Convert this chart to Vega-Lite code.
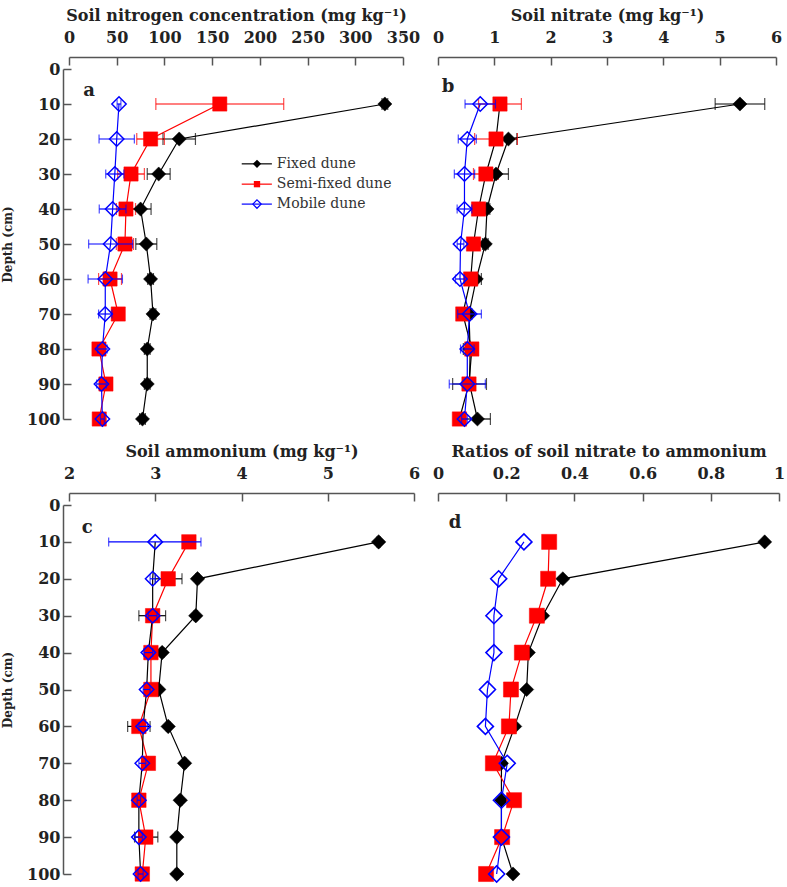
{
  "$schema": "https://vega.github.io/schema/vega-lite/v6.json",
  "background": "white",
  "padding": {"left": 1, "top": 7, "right": 0, "bottom": 5},
  "config": {
    "view": {"stroke": null},
    "font": "DejaVu Serif",
    "axis": {
      "labelFont": "DejaVu Serif", "labelFontWeight": "bold", "labelFontSize": 16, "labelColor": "#222",
      "titleFont": "DejaVu Serif", "titleFontWeight": "bold", "titleFontSize": 16, "titleColor": "#222",
      "domainColor": "#555", "domainWidth": 1.5, "tickColor": "#555", "tickWidth": 1.5, "tickSize": -8,
      "grid": false, "labelFlush": false, "labelOverlap": false
    },
    "axisTop": {"offset": 12, "labelPadding": 20, "titlePadding": 6},
    "axisLeft": {"offset": 6, "labelPadding": 11, "titlePadding": 12, "titleFontSize": 12}
  },
  "datasets": {
    "rows": [
      {"p": "a", "site": "Fixed dune", "depth": 10, "value": 331, "lo": 328, "hi": 334},
      {"p": "a", "site": "Fixed dune", "depth": 20, "value": 115.5, "lo": 98.5, "hi": 132.5},
      {"p": "a", "site": "Fixed dune", "depth": 30, "value": 94, "lo": 82, "hi": 106},
      {"p": "a", "site": "Fixed dune", "depth": 40, "value": 75, "lo": 64, "hi": 86},
      {"p": "a", "site": "Fixed dune", "depth": 50, "value": 81, "lo": 70, "hi": 92},
      {"p": "a", "site": "Fixed dune", "depth": 60, "value": 85.5, "lo": 82.5, "hi": 88.5},
      {"p": "a", "site": "Fixed dune", "depth": 70, "value": 88, "lo": 85, "hi": 91},
      {"p": "a", "site": "Fixed dune", "depth": 80, "value": 82, "lo": 79, "hi": 85},
      {"p": "a", "site": "Fixed dune", "depth": 90, "value": 82, "lo": 79, "hi": 85},
      {"p": "a", "site": "Fixed dune", "depth": 100, "value": 77, "lo": 74, "hi": 80},
      {"p": "a", "site": "Semi-fixed dune", "depth": 10, "value": 158, "lo": 91, "hi": 225},
      {"p": "a", "site": "Semi-fixed dune", "depth": 20, "value": 85.5, "lo": 71, "hi": 100},
      {"p": "a", "site": "Semi-fixed dune", "depth": 30, "value": 65, "lo": 51, "hi": 79},
      {"p": "a", "site": "Semi-fixed dune", "depth": 40, "value": 59.7, "lo": 49.7, "hi": 69.7},
      {"p": "a", "site": "Semi-fixed dune", "depth": 50, "value": 58.6, "lo": 49.6, "hi": 67.6},
      {"p": "a", "site": "Semi-fixed dune", "depth": 60, "value": 43, "lo": 31, "hi": 55},
      {"p": "a", "site": "Semi-fixed dune", "depth": 70, "value": 51.6, "lo": 46.6, "hi": 56.6},
      {"p": "a", "site": "Semi-fixed dune", "depth": 80, "value": 31.4, "lo": 28.4, "hi": 34.4},
      {"p": "a", "site": "Semi-fixed dune", "depth": 90, "value": 38.7, "lo": 34.7, "hi": 42.7},
      {"p": "a", "site": "Semi-fixed dune", "depth": 100, "value": 31.7, "lo": 28.7, "hi": 34.7},
      {"p": "a", "site": "Mobile dune", "depth": 10, "value": 52.4, "lo": 50.4, "hi": 54.4},
      {"p": "a", "site": "Mobile dune", "depth": 20, "value": 50, "lo": 31.5, "hi": 68.5},
      {"p": "a", "site": "Mobile dune", "depth": 30, "value": 48, "lo": 38.5, "hi": 57.5},
      {"p": "a", "site": "Mobile dune", "depth": 40, "value": 45.7, "lo": 31.7, "hi": 59.7},
      {"p": "a", "site": "Mobile dune", "depth": 50, "value": 43.6, "lo": 20.6, "hi": 66.6},
      {"p": "a", "site": "Mobile dune", "depth": 60, "value": 38, "lo": 20, "hi": 56},
      {"p": "a", "site": "Mobile dune", "depth": 70, "value": 38, "lo": 31, "hi": 45},
      {"p": "a", "site": "Mobile dune", "depth": 80, "value": 35, "lo": 30, "hi": 40},
      {"p": "a", "site": "Mobile dune", "depth": 90, "value": 34, "lo": 29, "hi": 39},
      {"p": "a", "site": "Mobile dune", "depth": 100, "value": 35, "lo": 33, "hi": 37},

      {"p": "b", "site": "Fixed dune", "depth": 10, "value": 5.36, "lo": 4.92, "hi": 5.8},
      {"p": "b", "site": "Fixed dune", "depth": 20, "value": 1.25, "lo": 1.1, "hi": 1.4},
      {"p": "b", "site": "Fixed dune", "depth": 30, "value": 1.03, "lo": 0.81, "hi": 1.25},
      {"p": "b", "site": "Fixed dune", "depth": 40, "value": 0.87, "lo": 0.82, "hi": 0.92},
      {"p": "b", "site": "Fixed dune", "depth": 50, "value": 0.84, "lo": 0.79, "hi": 0.89},
      {"p": "b", "site": "Fixed dune", "depth": 60, "value": 0.68, "lo": 0.59, "hi": 0.77},
      {"p": "b", "site": "Fixed dune", "depth": 70, "value": 0.55, "lo": 0.5, "hi": 0.6},
      {"p": "b", "site": "Fixed dune", "depth": 80, "value": 0.57, "lo": 0.45, "hi": 0.69},
      {"p": "b", "site": "Fixed dune", "depth": 90, "value": 0.56, "lo": 0.26, "hi": 0.86},
      {"p": "b", "site": "Fixed dune", "depth": 100, "value": 0.7, "lo": 0.47, "hi": 0.93},
      {"p": "b", "site": "Semi-fixed dune", "depth": 10, "value": 1.1, "lo": 0.72, "hi": 1.48},
      {"p": "b", "site": "Semi-fixed dune", "depth": 20, "value": 1.03, "lo": 0.65, "hi": 1.41},
      {"p": "b", "site": "Semi-fixed dune", "depth": 30, "value": 0.85, "lo": 0.63, "hi": 1.07},
      {"p": "b", "site": "Semi-fixed dune", "depth": 40, "value": 0.72, "lo": 0.67, "hi": 0.77},
      {"p": "b", "site": "Semi-fixed dune", "depth": 50, "value": 0.63, "lo": 0.58, "hi": 0.68},
      {"p": "b", "site": "Semi-fixed dune", "depth": 60, "value": 0.58, "lo": 0.53, "hi": 0.63},
      {"p": "b", "site": "Semi-fixed dune", "depth": 70, "value": 0.44, "lo": 0.34, "hi": 0.54},
      {"p": "b", "site": "Semi-fixed dune", "depth": 80, "value": 0.6, "lo": 0.55, "hi": 0.65},
      {"p": "b", "site": "Semi-fixed dune", "depth": 90, "value": 0.55, "lo": 0.5, "hi": 0.6},
      {"p": "b", "site": "Semi-fixed dune", "depth": 100, "value": 0.38, "lo": 0.33, "hi": 0.43},
      {"p": "b", "site": "Mobile dune", "depth": 10, "value": 0.75, "lo": 0.48, "hi": 1.02},
      {"p": "b", "site": "Mobile dune", "depth": 20, "value": 0.52, "lo": 0.36, "hi": 0.68},
      {"p": "b", "site": "Mobile dune", "depth": 30, "value": 0.47, "lo": 0.29, "hi": 0.65},
      {"p": "b", "site": "Mobile dune", "depth": 40, "value": 0.47, "lo": 0.34, "hi": 0.6},
      {"p": "b", "site": "Mobile dune", "depth": 50, "value": 0.4, "lo": 0.34, "hi": 0.46},
      {"p": "b", "site": "Mobile dune", "depth": 60, "value": 0.39, "lo": 0.31, "hi": 0.47},
      {"p": "b", "site": "Mobile dune", "depth": 70, "value": 0.56, "lo": 0.35, "hi": 0.77},
      {"p": "b", "site": "Mobile dune", "depth": 80, "value": 0.52, "lo": 0.4, "hi": 0.64},
      {"p": "b", "site": "Mobile dune", "depth": 90, "value": 0.52, "lo": 0.2, "hi": 0.84},
      {"p": "b", "site": "Mobile dune", "depth": 100, "value": 0.47, "lo": 0.42, "hi": 0.52},

      {"p": "c", "site": "Fixed dune", "depth": 10, "value": 5.59, "lo": 5.57, "hi": 5.61},
      {"p": "c", "site": "Fixed dune", "depth": 20, "value": 3.49, "lo": 3.47, "hi": 3.51},
      {"p": "c", "site": "Fixed dune", "depth": 30, "value": 3.47, "lo": 3.45, "hi": 3.49},
      {"p": "c", "site": "Fixed dune", "depth": 40, "value": 3.08, "lo": 3.06, "hi": 3.1},
      {"p": "c", "site": "Fixed dune", "depth": 50, "value": 3.04, "lo": 3.02, "hi": 3.06},
      {"p": "c", "site": "Fixed dune", "depth": 60, "value": 3.15, "lo": 3.13, "hi": 3.17},
      {"p": "c", "site": "Fixed dune", "depth": 70, "value": 3.34, "lo": 3.32, "hi": 3.36},
      {"p": "c", "site": "Fixed dune", "depth": 80, "value": 3.29, "lo": 3.27, "hi": 3.31},
      {"p": "c", "site": "Fixed dune", "depth": 90, "value": 3.25, "lo": 3.23, "hi": 3.27},
      {"p": "c", "site": "Fixed dune", "depth": 100, "value": 3.25, "lo": 3.23, "hi": 3.27},
      {"p": "c", "site": "Semi-fixed dune", "depth": 10, "value": 3.39, "lo": 3.34, "hi": 3.44},
      {"p": "c", "site": "Semi-fixed dune", "depth": 20, "value": 3.15, "lo": 3.0, "hi": 3.31},
      {"p": "c", "site": "Semi-fixed dune", "depth": 30, "value": 2.97, "lo": 2.81, "hi": 3.12},
      {"p": "c", "site": "Semi-fixed dune", "depth": 40, "value": 2.95, "lo": 2.88, "hi": 3.02},
      {"p": "c", "site": "Semi-fixed dune", "depth": 50, "value": 2.95, "lo": 2.9, "hi": 3.0},
      {"p": "c", "site": "Semi-fixed dune", "depth": 60, "value": 2.81, "lo": 2.68, "hi": 2.94},
      {"p": "c", "site": "Semi-fixed dune", "depth": 70, "value": 2.92, "lo": 2.85, "hi": 2.99},
      {"p": "c", "site": "Semi-fixed dune", "depth": 80, "value": 2.81, "lo": 2.78, "hi": 2.84},
      {"p": "c", "site": "Semi-fixed dune", "depth": 90, "value": 2.89, "lo": 2.76, "hi": 3.03},
      {"p": "c", "site": "Semi-fixed dune", "depth": 100, "value": 2.85, "lo": 2.82, "hi": 2.88},
      {"p": "c", "site": "Mobile dune", "depth": 10, "value": 3.0, "lo": 2.46, "hi": 3.53},
      {"p": "c", "site": "Mobile dune", "depth": 20, "value": 2.97, "lo": 2.94, "hi": 3.0},
      {"p": "c", "site": "Mobile dune", "depth": 30, "value": 2.97, "lo": 2.92, "hi": 3.02},
      {"p": "c", "site": "Mobile dune", "depth": 40, "value": 2.92, "lo": 2.87, "hi": 2.97},
      {"p": "c", "site": "Mobile dune", "depth": 50, "value": 2.9, "lo": 2.86, "hi": 2.94},
      {"p": "c", "site": "Mobile dune", "depth": 60, "value": 2.86, "lo": 2.81, "hi": 2.91},
      {"p": "c", "site": "Mobile dune", "depth": 70, "value": 2.85, "lo": 2.81, "hi": 2.89},
      {"p": "c", "site": "Mobile dune", "depth": 80, "value": 2.81, "lo": 2.79, "hi": 2.83},
      {"p": "c", "site": "Mobile dune", "depth": 90, "value": 2.81, "lo": 2.77, "hi": 2.85},
      {"p": "c", "site": "Mobile dune", "depth": 100, "value": 2.83, "lo": 2.8, "hi": 2.86},

      {"p": "d", "site": "Fixed dune", "depth": 10, "value": 0.958},
      {"p": "d", "site": "Fixed dune", "depth": 20, "value": 0.366},
      {"p": "d", "site": "Fixed dune", "depth": 30, "value": 0.307},
      {"p": "d", "site": "Fixed dune", "depth": 40, "value": 0.265},
      {"p": "d", "site": "Fixed dune", "depth": 50, "value": 0.26},
      {"p": "d", "site": "Fixed dune", "depth": 60, "value": 0.225},
      {"p": "d", "site": "Fixed dune", "depth": 70, "value": 0.186},
      {"p": "d", "site": "Fixed dune", "depth": 80, "value": 0.186},
      {"p": "d", "site": "Fixed dune", "depth": 90, "value": 0.186},
      {"p": "d", "site": "Fixed dune", "depth": 100, "value": 0.22},
      {"p": "d", "site": "Semi-fixed dune", "depth": 10, "value": 0.326},
      {"p": "d", "site": "Semi-fixed dune", "depth": 20, "value": 0.323},
      {"p": "d", "site": "Semi-fixed dune", "depth": 30, "value": 0.29},
      {"p": "d", "site": "Semi-fixed dune", "depth": 40, "value": 0.246},
      {"p": "d", "site": "Semi-fixed dune", "depth": 50, "value": 0.214},
      {"p": "d", "site": "Semi-fixed dune", "depth": 60, "value": 0.208},
      {"p": "d", "site": "Semi-fixed dune", "depth": 70, "value": 0.161},
      {"p": "d", "site": "Semi-fixed dune", "depth": 80, "value": 0.223},
      {"p": "d", "site": "Semi-fixed dune", "depth": 90, "value": 0.188},
      {"p": "d", "site": "Semi-fixed dune", "depth": 100, "value": 0.141},
      {"p": "d", "site": "Mobile dune", "depth": 10, "value": 0.252},
      {"p": "d", "site": "Mobile dune", "depth": 20, "value": 0.178},
      {"p": "d", "site": "Mobile dune", "depth": 30, "value": 0.164},
      {"p": "d", "site": "Mobile dune", "depth": 40, "value": 0.164},
      {"p": "d", "site": "Mobile dune", "depth": 50, "value": 0.145},
      {"p": "d", "site": "Mobile dune", "depth": 60, "value": 0.139},
      {"p": "d", "site": "Mobile dune", "depth": 70, "value": 0.203},
      {"p": "d", "site": "Mobile dune", "depth": 80, "value": 0.186},
      {"p": "d", "site": "Mobile dune", "depth": 90, "value": 0.186},
      {"p": "d", "site": "Mobile dune", "depth": 100, "value": 0.172}
    ]
  },
  "data": {"name": "rows"},
  "columns": 2,
  "bounds": "flush",
  "spacing": {"row": 86, "column": 24},
  "resolve": {"scale": {"color": "independent", "fill": "independent", "stroke": "independent", "shape": "independent", "size": "independent"}},
  "concat": [
    {
      "width": 334, "height": 350,
      "transform": [{"filter": "datum.p === 'a'"}],
      "encoding": {"y": {"field": "depth", "type": "quantitative", "scale": {"domain": [0, 100], "reverse": true, "nice": false, "zero": false}, "axis": {"values": [0, 10, 20, 30, 40, 50, 60, 70, 80, 90, 100], "title": "Depth (cm)"}}},
      "layer": [
        {"mark": {"type": "line", "strokeWidth": 1.2}, "encoding": {
          "x": {"field": "value", "type": "quantitative", "scale": {"domain": [0, 350], "nice": false, "zero": false}, "axis": {"orient": "top", "values": [0, 50, 100, 150, 200, 250, 300, 350], "title": "Soil nitrogen concentration (mg kg⁻¹)"}},
          "color": {"field": "site", "type": "nominal", "scale": {"domain": ["Fixed dune", "Semi-fixed dune", "Mobile dune"], "range": ["#000000", "#ff0000", "#0000ff"]}, "legend": null},
          "order": {"field": "depth", "type": "quantitative"}}},
        {"transform": [{"filter": "datum.site !== 'Mobile dune'"}], "layer": [
          {"mark": {"type": "rule", "strokeWidth": 1.2}, "encoding": {"x": {"field": "lo", "type": "quantitative", "scale": {"domain": [0, 350], "nice": false, "zero": false}, "axis": {"orient": "top", "values": [0, 50, 100, 150, 200, 250, 300, 350], "title": "Soil nitrogen concentration (mg kg⁻¹)"}}, "x2": {"field": "hi"}, "color": {"field": "site", "type": "nominal", "legend": null}}},
          {"mark": {"type": "tick", "orient": "vertical", "thickness": 1.2, "size": 12}, "encoding": {"x": {"field": "lo", "type": "quantitative", "scale": {"domain": [0, 350], "nice": false, "zero": false}, "axis": {"orient": "top", "values": [0, 50, 100, 150, 200, 250, 300, 350], "title": "Soil nitrogen concentration (mg kg⁻¹)"}}, "color": {"field": "site", "type": "nominal", "legend": null}}},
          {"mark": {"type": "tick", "orient": "vertical", "thickness": 1.2, "size": 12}, "encoding": {"x": {"field": "hi", "type": "quantitative", "scale": {"domain": [0, 350], "nice": false, "zero": false}, "axis": {"orient": "top", "values": [0, 50, 100, 150, 200, 250, 300, 350], "title": "Soil nitrogen concentration (mg kg⁻¹)"}}, "color": {"field": "site", "type": "nominal", "legend": null}}}
        ]},
        {"transform": [{"filter": "datum.site !== 'Mobile dune'"}], "mark": {"type": "point", "opacity": 1, "strokeWidth": 0.5}, "encoding": {
          "x": {"field": "value", "type": "quantitative", "scale": {"domain": [0, 350], "nice": false, "zero": false}, "axis": {"orient": "top", "values": [0, 50, 100, 150, 200, 250, 300, 350], "title": "Soil nitrogen concentration (mg kg⁻¹)"}},
          "fill": {"field": "site", "type": "nominal", "scale": {"domain": ["Fixed dune", "Semi-fixed dune", "Mobile dune"], "range": ["#000000", "#ff0000", "transparent"]}, "legend": null},
          "stroke": {"field": "site", "type": "nominal", "scale": {"domain": ["Fixed dune", "Semi-fixed dune", "Mobile dune"], "range": ["#000000", "#ff0000", "#0000ff"]}, "legend": null},
          "shape": {"field": "site", "type": "nominal", "scale": {"domain": ["Fixed dune", "Semi-fixed dune", "Mobile dune"], "range": ["diamond", "square", "diamond"]}, "legend": null},
          "size": {"field": "site", "type": "ordinal", "scale": {"domain": ["Fixed dune", "Semi-fixed dune", "Mobile dune"], "range": [200, 205, 190]}, "legend": null}}},
        {"transform": [{"filter": "datum.site === 'Mobile dune'"}], "layer": [
          {"mark": {"type": "rule", "strokeWidth": 1.2}, "encoding": {"x": {"field": "lo", "type": "quantitative", "scale": {"domain": [0, 350], "nice": false, "zero": false}, "axis": {"orient": "top", "values": [0, 50, 100, 150, 200, 250, 300, 350], "title": "Soil nitrogen concentration (mg kg⁻¹)"}}, "x2": {"field": "hi"}, "color": {"field": "site", "type": "nominal", "legend": null}}},
          {"mark": {"type": "tick", "orient": "vertical", "thickness": 1.2, "size": 9}, "encoding": {"x": {"field": "lo", "type": "quantitative", "scale": {"domain": [0, 350], "nice": false, "zero": false}, "axis": {"orient": "top", "values": [0, 50, 100, 150, 200, 250, 300, 350], "title": "Soil nitrogen concentration (mg kg⁻¹)"}}, "color": {"field": "site", "type": "nominal", "legend": null}}},
          {"mark": {"type": "tick", "orient": "vertical", "thickness": 1.2, "size": 9}, "encoding": {"x": {"field": "hi", "type": "quantitative", "scale": {"domain": [0, 350], "nice": false, "zero": false}, "axis": {"orient": "top", "values": [0, 50, 100, 150, 200, 250, 300, 350], "title": "Soil nitrogen concentration (mg kg⁻¹)"}}, "color": {"field": "site", "type": "nominal", "legend": null}}}
        ]},
        {"transform": [{"filter": "datum.site === 'Mobile dune'"}], "mark": {"type": "point", "opacity": 1, "strokeWidth": 1.5}, "encoding": {
          "x": {"field": "value", "type": "quantitative", "scale": {"domain": [0, 350], "nice": false, "zero": false}, "axis": {"orient": "top", "values": [0, 50, 100, 150, 200, 250, 300, 350], "title": "Soil nitrogen concentration (mg kg⁻¹)"}},
          "fill": {"field": "site", "type": "nominal", "scale": {"domain": ["Fixed dune", "Semi-fixed dune", "Mobile dune"], "range": ["#000000", "#ff0000", "transparent"]}, "legend": null},
          "stroke": {"field": "site", "type": "nominal", "scale": {"domain": ["Fixed dune", "Semi-fixed dune", "Mobile dune"], "range": ["#000000", "#ff0000", "#0000ff"]}, "legend": null},
          "shape": {"field": "site", "type": "nominal", "scale": {"domain": ["Fixed dune", "Semi-fixed dune", "Mobile dune"], "range": ["diamond", "square", "diamond"]}, "legend": null},
          "size": {"field": "site", "type": "ordinal", "scale": {"domain": ["Fixed dune", "Semi-fixed dune", "Mobile dune"], "range": [200, 205, 190]}, "legend": null}}},
        {"transform": [{"filter": "datum.depth === 10 && datum.site === 'Fixed dune'"}], "mark": {"type": "text", "text": "a", "font": "DejaVu Serif", "fontSize": 18, "fontWeight": "bold", "color": "#222", "baseline": "middle"}, "encoding": {
          "x": {"datum": 21, "type": "quantitative", "scale": {"domain": [0, 350], "nice": false, "zero": false}, "axis": {"orient": "top", "values": [0, 50, 100, 150, 200, 250, 300, 350], "title": "Soil nitrogen concentration (mg kg⁻¹)"}},
          "y": {"datum": 6.2, "type": "quantitative"}}},
        {"transform": [{"filter": "datum.depth === 10 && datum.site === 'Fixed dune'"}], "mark": {"type": "rule", "color": "#000000", "strokeWidth": 1.2}, "encoding": {
          "x": {"datum": 181, "type": "quantitative", "scale": {"domain": [0, 350], "nice": false, "zero": false}, "axis": {"orient": "top", "values": [0, 50, 100, 150, 200, 250, 300, 350], "title": "Soil nitrogen concentration (mg kg⁻¹)"}},
          "x2": {"datum": 212.6},
          "y": {"datum": 27.1, "type": "quantitative"}}},
        {"transform": [{"filter": "datum.depth === 10 && datum.site === 'Fixed dune'"}], "mark": {"type": "rule", "color": "#ff0000", "strokeWidth": 1.2}, "encoding": {
          "x": {"datum": 181, "type": "quantitative", "scale": {"domain": [0, 350], "nice": false, "zero": false}, "axis": {"orient": "top", "values": [0, 50, 100, 150, 200, 250, 300, 350], "title": "Soil nitrogen concentration (mg kg⁻¹)"}},
          "x2": {"datum": 212.6},
          "y": {"datum": 32.9, "type": "quantitative"}}},
        {"transform": [{"filter": "datum.depth === 10 && datum.site === 'Fixed dune'"}], "mark": {"type": "rule", "color": "#0000ff", "strokeWidth": 1.2}, "encoding": {
          "x": {"datum": 181, "type": "quantitative", "scale": {"domain": [0, 350], "nice": false, "zero": false}, "axis": {"orient": "top", "values": [0, 50, 100, 150, 200, 250, 300, 350], "title": "Soil nitrogen concentration (mg kg⁻¹)"}},
          "x2": {"datum": 212.6},
          "y": {"datum": 38.6, "type": "quantitative"}}},
        {"transform": [{"filter": "datum.depth === 10 && datum.site === 'Fixed dune'"}], "mark": {"type": "point", "shape": "diamond", "filled": true, "color": "#000000", "size": 70, "opacity": 1}, "encoding": {
          "x": {"datum": 197, "type": "quantitative", "scale": {"domain": [0, 350], "nice": false, "zero": false}, "axis": {"orient": "top", "values": [0, 50, 100, 150, 200, 250, 300, 350], "title": "Soil nitrogen concentration (mg kg⁻¹)"}},
          "y": {"datum": 27.1, "type": "quantitative"}}},
        {"transform": [{"filter": "datum.depth === 10 && datum.site === 'Fixed dune'"}], "mark": {"type": "point", "shape": "square", "filled": true, "color": "#ff0000", "size": 40, "opacity": 1}, "encoding": {
          "x": {"datum": 197, "type": "quantitative", "scale": {"domain": [0, 350], "nice": false, "zero": false}, "axis": {"orient": "top", "values": [0, 50, 100, 150, 200, 250, 300, 350], "title": "Soil nitrogen concentration (mg kg⁻¹)"}},
          "y": {"datum": 32.9, "type": "quantitative"}}},
        {"transform": [{"filter": "datum.depth === 10 && datum.site === 'Fixed dune'"}], "mark": {"type": "point", "shape": "diamond", "filled": false, "color": "#0000ff", "size": 70, "opacity": 1, "strokeWidth": 1.2}, "encoding": {
          "x": {"datum": 197, "type": "quantitative", "scale": {"domain": [0, 350], "nice": false, "zero": false}, "axis": {"orient": "top", "values": [0, 50, 100, 150, 200, 250, 300, 350], "title": "Soil nitrogen concentration (mg kg⁻¹)"}},
          "y": {"datum": 38.6, "type": "quantitative"}}},
        {"transform": [{"filter": "datum.depth === 10 && datum.site === 'Fixed dune'"}], "mark": {"type": "text", "text": "Fixed dune", "font": "DejaVu Serif", "fontSize": 14, "color": "#333", "align": "left", "baseline": "middle"}, "encoding": {
          "x": {"datum": 217.8, "type": "quantitative", "scale": {"domain": [0, 350], "nice": false, "zero": false}, "axis": {"orient": "top", "values": [0, 50, 100, 150, 200, 250, 300, 350], "title": "Soil nitrogen concentration (mg kg⁻¹)"}},
          "y": {"datum": 27.1, "type": "quantitative"}}},
        {"transform": [{"filter": "datum.depth === 10 && datum.site === 'Fixed dune'"}], "mark": {"type": "text", "text": "Semi-fixed dune", "font": "DejaVu Serif", "fontSize": 14, "color": "#333", "align": "left", "baseline": "middle"}, "encoding": {
          "x": {"datum": 217.8, "type": "quantitative", "scale": {"domain": [0, 350], "nice": false, "zero": false}, "axis": {"orient": "top", "values": [0, 50, 100, 150, 200, 250, 300, 350], "title": "Soil nitrogen concentration (mg kg⁻¹)"}},
          "y": {"datum": 32.9, "type": "quantitative"}}},
        {"transform": [{"filter": "datum.depth === 10 && datum.site === 'Fixed dune'"}], "mark": {"type": "text", "text": "Mobile dune", "font": "DejaVu Serif", "fontSize": 14, "color": "#333", "align": "left", "baseline": "middle"}, "encoding": {
          "x": {"datum": 217.8, "type": "quantitative", "scale": {"domain": [0, 350], "nice": false, "zero": false}, "axis": {"orient": "top", "values": [0, 50, 100, 150, 200, 250, 300, 350], "title": "Soil nitrogen concentration (mg kg⁻¹)"}},
          "y": {"datum": 38.6, "type": "quantitative"}}}
      ]
    },
    {
      "width": 338, "height": 350,
      "transform": [{"filter": "datum.p === 'b'"}],
      "encoding": {"y": {"field": "depth", "type": "quantitative", "scale": {"domain": [0, 100], "reverse": true, "nice": false, "zero": false}, "axis": null}},
      "layer": [
        {"mark": {"type": "line", "strokeWidth": 1.2}, "encoding": {
          "x": {"field": "value", "type": "quantitative", "scale": {"domain": [0, 6], "nice": false, "zero": false}, "axis": {"orient": "top", "values": [0, 1, 2, 3, 4, 5, 6], "title": "Soil nitrate (mg kg⁻¹)"}},
          "color": {"condition": {"test": "datum.site === 'Semi-fixed dune'", "value": "#000000"}, "field": "site", "type": "nominal", "scale": {"domain": ["Fixed dune", "Semi-fixed dune", "Mobile dune"], "range": ["#000000", "#ff0000", "#0000ff"]}, "legend": null},
          "order": {"field": "depth", "type": "quantitative"}}},
        {"transform": [{"filter": "datum.site !== 'Mobile dune'"}], "layer": [
          {"mark": {"type": "rule", "strokeWidth": 1.2}, "encoding": {"x": {"field": "lo", "type": "quantitative", "scale": {"domain": [0, 6], "nice": false, "zero": false}, "axis": {"orient": "top", "values": [0, 1, 2, 3, 4, 5, 6], "title": "Soil nitrate (mg kg⁻¹)"}}, "x2": {"field": "hi"}, "color": {"field": "site", "type": "nominal", "legend": null}}},
          {"mark": {"type": "tick", "orient": "vertical", "thickness": 1.2, "size": 12}, "encoding": {"x": {"field": "lo", "type": "quantitative", "scale": {"domain": [0, 6], "nice": false, "zero": false}, "axis": {"orient": "top", "values": [0, 1, 2, 3, 4, 5, 6], "title": "Soil nitrate (mg kg⁻¹)"}}, "color": {"field": "site", "type": "nominal", "legend": null}}},
          {"mark": {"type": "tick", "orient": "vertical", "thickness": 1.2, "size": 12}, "encoding": {"x": {"field": "hi", "type": "quantitative", "scale": {"domain": [0, 6], "nice": false, "zero": false}, "axis": {"orient": "top", "values": [0, 1, 2, 3, 4, 5, 6], "title": "Soil nitrate (mg kg⁻¹)"}}, "color": {"field": "site", "type": "nominal", "legend": null}}}
        ]},
        {"transform": [{"filter": "datum.site !== 'Mobile dune'"}], "mark": {"type": "point", "opacity": 1, "strokeWidth": 0.5}, "encoding": {
          "x": {"field": "value", "type": "quantitative", "scale": {"domain": [0, 6], "nice": false, "zero": false}, "axis": {"orient": "top", "values": [0, 1, 2, 3, 4, 5, 6], "title": "Soil nitrate (mg kg⁻¹)"}},
          "fill": {"field": "site", "type": "nominal", "scale": {"domain": ["Fixed dune", "Semi-fixed dune", "Mobile dune"], "range": ["#000000", "#ff0000", "transparent"]}, "legend": null},
          "stroke": {"field": "site", "type": "nominal", "scale": {"domain": ["Fixed dune", "Semi-fixed dune", "Mobile dune"], "range": ["#000000", "#ff0000", "#0000ff"]}, "legend": null},
          "shape": {"field": "site", "type": "nominal", "scale": {"domain": ["Fixed dune", "Semi-fixed dune", "Mobile dune"], "range": ["diamond", "square", "diamond"]}, "legend": null},
          "size": {"field": "site", "type": "ordinal", "scale": {"domain": ["Fixed dune", "Semi-fixed dune", "Mobile dune"], "range": [200, 210, 190]}, "legend": null}}},
        {"transform": [{"filter": "datum.site === 'Mobile dune'"}], "layer": [
          {"mark": {"type": "rule", "strokeWidth": 1.2}, "encoding": {"x": {"field": "lo", "type": "quantitative", "scale": {"domain": [0, 6], "nice": false, "zero": false}, "axis": {"orient": "top", "values": [0, 1, 2, 3, 4, 5, 6], "title": "Soil nitrate (mg kg⁻¹)"}}, "x2": {"field": "hi"}, "color": {"field": "site", "type": "nominal", "legend": null}}},
          {"mark": {"type": "tick", "orient": "vertical", "thickness": 1.2, "size": 9}, "encoding": {"x": {"field": "lo", "type": "quantitative", "scale": {"domain": [0, 6], "nice": false, "zero": false}, "axis": {"orient": "top", "values": [0, 1, 2, 3, 4, 5, 6], "title": "Soil nitrate (mg kg⁻¹)"}}, "color": {"field": "site", "type": "nominal", "legend": null}}},
          {"mark": {"type": "tick", "orient": "vertical", "thickness": 1.2, "size": 9}, "encoding": {"x": {"field": "hi", "type": "quantitative", "scale": {"domain": [0, 6], "nice": false, "zero": false}, "axis": {"orient": "top", "values": [0, 1, 2, 3, 4, 5, 6], "title": "Soil nitrate (mg kg⁻¹)"}}, "color": {"field": "site", "type": "nominal", "legend": null}}}
        ]},
        {"transform": [{"filter": "datum.site === 'Mobile dune'"}], "mark": {"type": "point", "opacity": 1, "strokeWidth": 1.5}, "encoding": {
          "x": {"field": "value", "type": "quantitative", "scale": {"domain": [0, 6], "nice": false, "zero": false}, "axis": {"orient": "top", "values": [0, 1, 2, 3, 4, 5, 6], "title": "Soil nitrate (mg kg⁻¹)"}},
          "fill": {"field": "site", "type": "nominal", "scale": {"domain": ["Fixed dune", "Semi-fixed dune", "Mobile dune"], "range": ["#000000", "#ff0000", "transparent"]}, "legend": null},
          "stroke": {"field": "site", "type": "nominal", "scale": {"domain": ["Fixed dune", "Semi-fixed dune", "Mobile dune"], "range": ["#000000", "#ff0000", "#0000ff"]}, "legend": null},
          "shape": {"field": "site", "type": "nominal", "scale": {"domain": ["Fixed dune", "Semi-fixed dune", "Mobile dune"], "range": ["diamond", "square", "diamond"]}, "legend": null},
          "size": {"field": "site", "type": "ordinal", "scale": {"domain": ["Fixed dune", "Semi-fixed dune", "Mobile dune"], "range": [200, 210, 190]}, "legend": null}}},
        {"transform": [{"filter": "datum.depth === 10 && datum.site === 'Fixed dune'"}], "mark": {"type": "text", "text": "b", "font": "DejaVu Serif", "fontSize": 18, "fontWeight": "bold", "color": "#222", "baseline": "middle"}, "encoding": {
          "x": {"datum": 0.18, "type": "quantitative", "scale": {"domain": [0, 6], "nice": false, "zero": false}, "axis": {"orient": "top", "values": [0, 1, 2, 3, 4, 5, 6], "title": "Soil nitrate (mg kg⁻¹)"}},
          "y": {"datum": 5.1, "type": "quantitative"}}}
      ]
    },
    {
      "width": 345, "height": 369,
      "transform": [{"filter": "datum.p === 'c'"}],
      "encoding": {"y": {"field": "depth", "type": "quantitative", "scale": {"domain": [0, 100], "reverse": true, "nice": false, "zero": false}, "axis": {"values": [0, 10, 20, 30, 40, 50, 60, 70, 80, 90, 100], "title": "Depth (cm)"}}},
      "layer": [
        {"mark": {"type": "line", "strokeWidth": 1.2}, "encoding": {
          "x": {"field": "value", "type": "quantitative", "scale": {"domain": [2, 6], "nice": false, "zero": false}, "axis": {"orient": "top", "values": [2, 3, 4, 5, 6], "title": "Soil ammonium (mg kg⁻¹)"}},
          "color": {"condition": {"test": "datum.site === 'Mobile dune'", "value": "#000000"}, "field": "site", "type": "nominal", "scale": {"domain": ["Fixed dune", "Semi-fixed dune", "Mobile dune"], "range": ["#000000", "#ff0000", "#0000ff"]}, "legend": null},
          "order": {"field": "depth", "type": "quantitative"}}},
        {"transform": [{"filter": "datum.site !== 'Mobile dune'"}], "layer": [
          {"mark": {"type": "rule", "strokeWidth": 1.2}, "encoding": {"x": {"field": "lo", "type": "quantitative", "scale": {"domain": [2, 6], "nice": false, "zero": false}, "axis": {"orient": "top", "values": [2, 3, 4, 5, 6], "title": "Soil ammonium (mg kg⁻¹)"}}, "x2": {"field": "hi"}, "color": {"condition": {"test": "datum.site === 'Semi-fixed dune'", "value": "#000000"}, "field": "site", "type": "nominal", "legend": null}}},
          {"mark": {"type": "tick", "orient": "vertical", "thickness": 1.2, "size": 11}, "encoding": {"x": {"field": "lo", "type": "quantitative", "scale": {"domain": [2, 6], "nice": false, "zero": false}, "axis": {"orient": "top", "values": [2, 3, 4, 5, 6], "title": "Soil ammonium (mg kg⁻¹)"}}, "color": {"condition": {"test": "datum.site === 'Semi-fixed dune'", "value": "#000000"}, "field": "site", "type": "nominal", "legend": null}}},
          {"mark": {"type": "tick", "orient": "vertical", "thickness": 1.2, "size": 11}, "encoding": {"x": {"field": "hi", "type": "quantitative", "scale": {"domain": [2, 6], "nice": false, "zero": false}, "axis": {"orient": "top", "values": [2, 3, 4, 5, 6], "title": "Soil ammonium (mg kg⁻¹)"}}, "color": {"condition": {"test": "datum.site === 'Semi-fixed dune'", "value": "#000000"}, "field": "site", "type": "nominal", "legend": null}}}
        ]},
        {"transform": [{"filter": "datum.site !== 'Mobile dune'"}], "mark": {"type": "point", "opacity": 1, "strokeWidth": 0.5}, "encoding": {
          "x": {"field": "value", "type": "quantitative", "scale": {"domain": [2, 6], "nice": false, "zero": false}, "axis": {"orient": "top", "values": [2, 3, 4, 5, 6], "title": "Soil ammonium (mg kg⁻¹)"}},
          "fill": {"field": "site", "type": "nominal", "scale": {"domain": ["Fixed dune", "Semi-fixed dune", "Mobile dune"], "range": ["#000000", "#ff0000", "transparent"]}, "legend": null},
          "stroke": {"field": "site", "type": "nominal", "scale": {"domain": ["Fixed dune", "Semi-fixed dune", "Mobile dune"], "range": ["#000000", "#ff0000", "#0000ff"]}, "legend": null},
          "shape": {"field": "site", "type": "nominal", "scale": {"domain": ["Fixed dune", "Semi-fixed dune", "Mobile dune"], "range": ["diamond", "square", "diamond"]}, "legend": null},
          "size": {"field": "site", "type": "ordinal", "scale": {"domain": ["Fixed dune", "Semi-fixed dune", "Mobile dune"], "range": [210, 210, 200]}, "legend": null}}},
        {"transform": [{"filter": "datum.site === 'Mobile dune'"}], "layer": [
          {"mark": {"type": "rule", "strokeWidth": 1.2}, "encoding": {"x": {"field": "lo", "type": "quantitative", "scale": {"domain": [2, 6], "nice": false, "zero": false}, "axis": {"orient": "top", "values": [2, 3, 4, 5, 6], "title": "Soil ammonium (mg kg⁻¹)"}}, "x2": {"field": "hi"}, "color": {"field": "site", "type": "nominal", "legend": null}}},
          {"mark": {"type": "tick", "orient": "vertical", "thickness": 1.2, "size": 9}, "encoding": {"x": {"field": "lo", "type": "quantitative", "scale": {"domain": [2, 6], "nice": false, "zero": false}, "axis": {"orient": "top", "values": [2, 3, 4, 5, 6], "title": "Soil ammonium (mg kg⁻¹)"}}, "color": {"field": "site", "type": "nominal", "legend": null}}},
          {"mark": {"type": "tick", "orient": "vertical", "thickness": 1.2, "size": 9}, "encoding": {"x": {"field": "hi", "type": "quantitative", "scale": {"domain": [2, 6], "nice": false, "zero": false}, "axis": {"orient": "top", "values": [2, 3, 4, 5, 6], "title": "Soil ammonium (mg kg⁻¹)"}}, "color": {"field": "site", "type": "nominal", "legend": null}}}
        ]},
        {"transform": [{"filter": "datum.site === 'Mobile dune'"}], "mark": {"type": "point", "opacity": 1, "strokeWidth": 1.5}, "encoding": {
          "x": {"field": "value", "type": "quantitative", "scale": {"domain": [2, 6], "nice": false, "zero": false}, "axis": {"orient": "top", "values": [2, 3, 4, 5, 6], "title": "Soil ammonium (mg kg⁻¹)"}},
          "fill": {"field": "site", "type": "nominal", "scale": {"domain": ["Fixed dune", "Semi-fixed dune", "Mobile dune"], "range": ["#000000", "#ff0000", "transparent"]}, "legend": null},
          "stroke": {"field": "site", "type": "nominal", "scale": {"domain": ["Fixed dune", "Semi-fixed dune", "Mobile dune"], "range": ["#000000", "#ff0000", "#0000ff"]}, "legend": null},
          "shape": {"field": "site", "type": "nominal", "scale": {"domain": ["Fixed dune", "Semi-fixed dune", "Mobile dune"], "range": ["diamond", "square", "diamond"]}, "legend": null},
          "size": {"field": "site", "type": "ordinal", "scale": {"domain": ["Fixed dune", "Semi-fixed dune", "Mobile dune"], "range": [210, 210, 200]}, "legend": null}}},
        {"transform": [{"filter": "datum.depth === 10 && datum.site === 'Fixed dune'"}], "mark": {"type": "text", "text": "c", "font": "DejaVu Serif", "fontSize": 18, "fontWeight": "bold", "color": "#222", "baseline": "middle"}, "encoding": {
          "x": {"datum": 2.21, "type": "quantitative", "scale": {"domain": [2, 6], "nice": false, "zero": false}, "axis": {"orient": "top", "values": [2, 3, 4, 5, 6], "title": "Soil ammonium (mg kg⁻¹)"}},
          "y": {"datum": 6.2, "type": "quantitative"}}}
      ]
    },
    {
      "width": 341, "height": 369,
      "transform": [{"filter": "datum.p === 'd'"}],
      "encoding": {"y": {"field": "depth", "type": "quantitative", "scale": {"domain": [0, 100], "reverse": true, "nice": false, "zero": false}, "axis": null}},
      "layer": [
        {"mark": {"type": "line", "strokeWidth": 1.2}, "encoding": {
          "x": {"field": "value", "type": "quantitative", "scale": {"domain": [0, 1], "nice": false, "zero": false}, "axis": {"orient": "top", "values": [0, 0.2, 0.4, 0.6, 0.8, 1], "format": "~g", "title": "Ratios of soil nitrate to ammonium"}},
          "color": {"field": "site", "type": "nominal", "scale": {"domain": ["Fixed dune", "Semi-fixed dune", "Mobile dune"], "range": ["#000000", "#ff0000", "#0000ff"]}, "legend": null},
          "order": {"field": "depth", "type": "quantitative"}}},
        {"transform": [{"filter": "datum.site !== 'Mobile dune'"}], "mark": {"type": "point", "opacity": 1, "strokeWidth": 0.5}, "encoding": {
          "x": {"field": "value", "type": "quantitative", "scale": {"domain": [0, 1], "nice": false, "zero": false}, "axis": {"orient": "top", "values": [0, 0.2, 0.4, 0.6, 0.8, 1], "format": "~g", "title": "Ratios of soil nitrate to ammonium"}},
          "fill": {"field": "site", "type": "nominal", "scale": {"domain": ["Fixed dune", "Semi-fixed dune", "Mobile dune"], "range": ["#000000", "#ff0000", "transparent"]}, "legend": null},
          "stroke": {"field": "site", "type": "nominal", "scale": {"domain": ["Fixed dune", "Semi-fixed dune", "Mobile dune"], "range": ["#000000", "#ff0000", "#0000ff"]}, "legend": null},
          "shape": {"field": "site", "type": "nominal", "scale": {"domain": ["Fixed dune", "Semi-fixed dune", "Mobile dune"], "range": ["diamond", "square", "diamond"]}, "legend": null},
          "size": {"field": "site", "type": "ordinal", "scale": {"domain": ["Fixed dune", "Semi-fixed dune", "Mobile dune"], "range": [200, 256, 320]}, "legend": null}}},
        {"transform": [{"filter": "datum.site === 'Mobile dune'"}], "mark": {"type": "point", "opacity": 1, "strokeWidth": 1.6}, "encoding": {
          "x": {"field": "value", "type": "quantitative", "scale": {"domain": [0, 1], "nice": false, "zero": false}, "axis": {"orient": "top", "values": [0, 0.2, 0.4, 0.6, 0.8, 1], "format": "~g", "title": "Ratios of soil nitrate to ammonium"}},
          "fill": {"field": "site", "type": "nominal", "scale": {"domain": ["Fixed dune", "Semi-fixed dune", "Mobile dune"], "range": ["#000000", "#ff0000", "transparent"]}, "legend": null},
          "stroke": {"field": "site", "type": "nominal", "scale": {"domain": ["Fixed dune", "Semi-fixed dune", "Mobile dune"], "range": ["#000000", "#ff0000", "#0000ff"]}, "legend": null},
          "shape": {"field": "site", "type": "nominal", "scale": {"domain": ["Fixed dune", "Semi-fixed dune", "Mobile dune"], "range": ["diamond", "square", "diamond"]}, "legend": null},
          "size": {"field": "site", "type": "ordinal", "scale": {"domain": ["Fixed dune", "Semi-fixed dune", "Mobile dune"], "range": [200, 256, 320]}, "legend": null}}},
        {"transform": [{"filter": "datum.depth === 10 && datum.site === 'Fixed dune'"}], "mark": {"type": "text", "text": "d", "font": "DejaVu Serif", "fontSize": 18, "fontWeight": "bold", "color": "#222", "baseline": "middle"}, "encoding": {
          "x": {"datum": 0.05, "type": "quantitative", "scale": {"domain": [0, 1], "nice": false, "zero": false}, "axis": {"orient": "top", "values": [0, 0.2, 0.4, 0.6, 0.8, 1], "format": "~g", "title": "Ratios of soil nitrate to ammonium"}},
          "y": {"datum": 4.9, "type": "quantitative"}}}
      ]
    }
  ]
}
